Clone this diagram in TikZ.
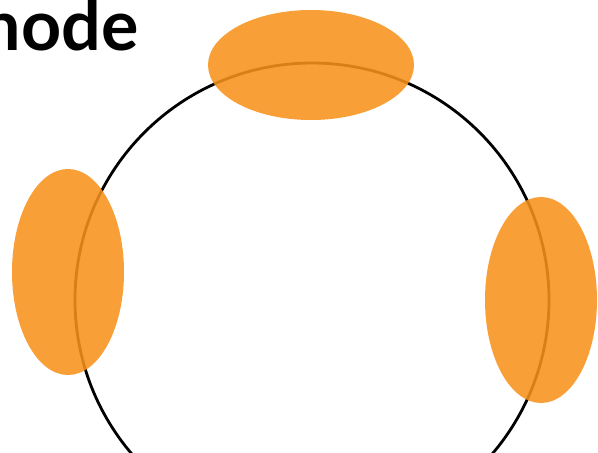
\documentclass[tikz,border=0pt]{standalone}
\usepackage{fontspec}
\setmainfont{Lato}
\definecolor{blob}{RGB}{247,146,28}
\begin{document}
\begin{tikzpicture}[x=1pt,y=-1pt,
  blobstyle/.style={fill=blob,fill opacity=0.88,draw=none},
  ringstyle/.style={draw=black,line width=2.8pt}]
\useasboundingbox (0,0) rectangle (598,453);
\clip (0,0) rectangle (598,453);
\node[anchor=base east,inner sep=0pt,font=\fontsize{70}{70}\selectfont\bfseries] (title) at (139,50) {node};
\draw[ringstyle] (312,300) circle[radius=237];
\fill[blobstyle] (311,65) ellipse[x radius=103,y radius=55];
\fill[blobstyle] (68,272) ellipse[x radius=56,y radius=103];
\fill[blobstyle] (541,300) ellipse[x radius=56,y radius=103];
\end{tikzpicture}
\end{document}
